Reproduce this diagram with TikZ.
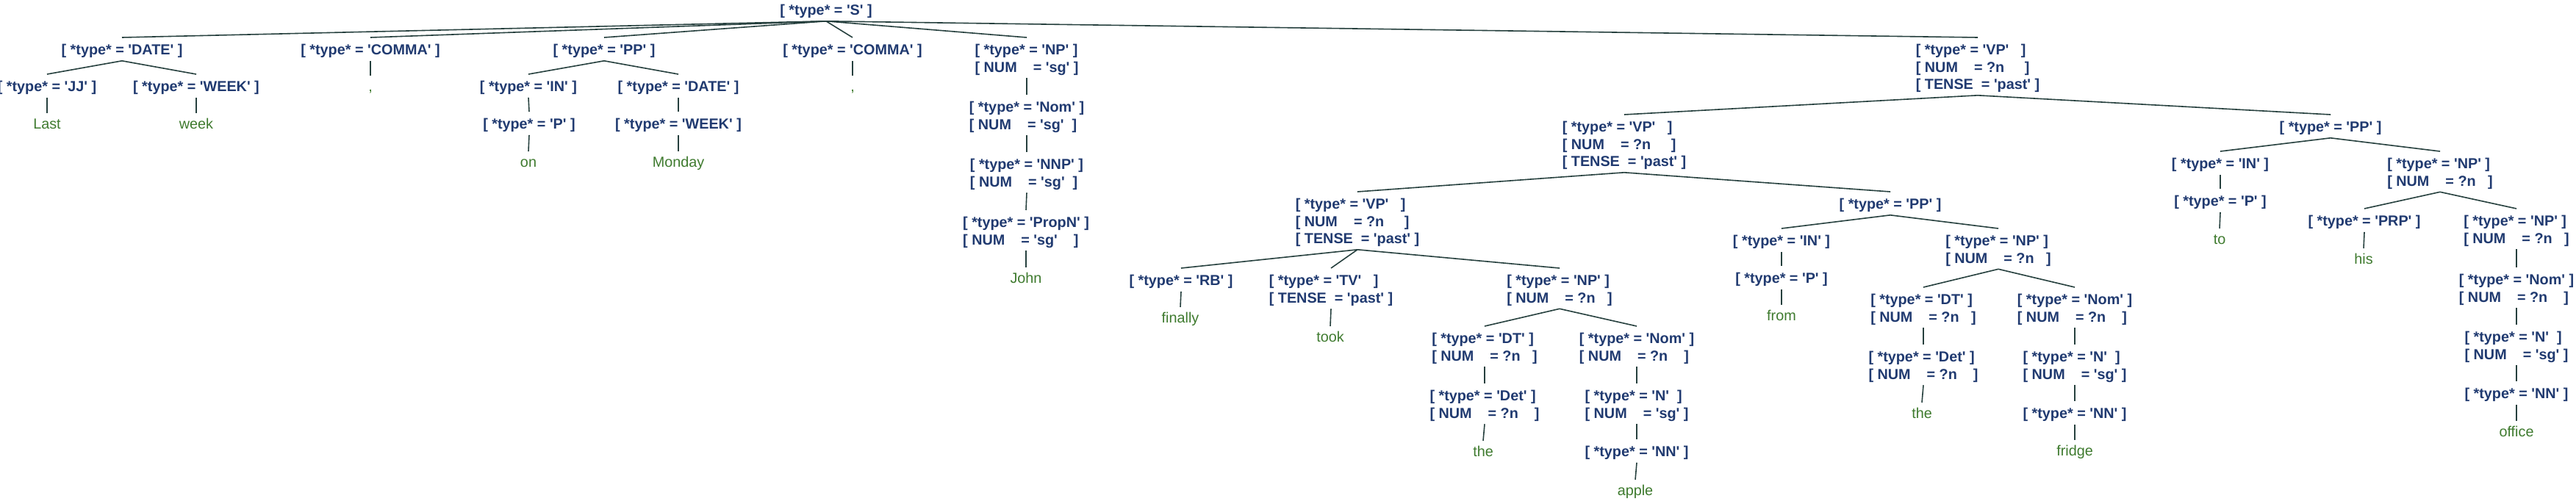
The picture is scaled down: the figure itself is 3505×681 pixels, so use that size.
\documentclass[tikz,border=0pt]{standalone}
\usepackage{fontspec}
\newfontfamily\nodefam{Liberation Sans}
\newcommand\nodefont{\nodefam\bfseries\fontsize{9.9pt}{11.75pt}\selectfont}
\newcommand\leaffont{\nodefam\fontsize{9.9pt}{11.75pt}\selectfont}
\newcommand\topS{\rule{0pt}{11.55pt}}
\newcommand\botS{\rule[-3.95pt]{0pt}{0pt}}
\newcommand\lfS{\rule{0pt}{10.55pt}}
\definecolor{nodecol}{RGB}{32,58,112}
\definecolor{leafcol}{RGB}{62,122,46}
\definecolor{linecol}{RGB}{38,64,62}
\tikzset{
  feat/.style={anchor=north, inner sep=0pt, align=left, text=nodecol, font=\nodefont},
  leaf/.style={anchor=north, inner sep=0pt, text=leafcol, font=\leaffont},
  edge/.style={draw=linecol, line width=0.8pt}
}
\begin{document}
\begin{tikzpicture}[x=0.5pt,y=-0.5pt]
\useasboundingbox (0,0) rectangle (3505,681);
% level 0
\node[feat] (S) at (1124,-3) {\topS[ *type* = 'S' ]\botS};
% level 1
\node[feat] (date1) at (166,51) {\topS[ *type* = 'DATE' ]\botS};
\node[feat] (comma1) at (504,51) {\topS[ *type* = 'COMMA' ]\botS};
\node[feat] (pp1) at (822,51) {\topS[ *type* = 'PP' ]\botS};
\node[feat] (comma2) at (1160,51) {\topS[ *type* = 'COMMA' ]\botS};
\node[feat] (np1) at (1397,51) {\topS[ *type* = 'NP' ]\\{}[ NUM~~~~= 'sg' ]\botS};
\node[feat] (vp1) at (2691,51) {\topS[ *type* = 'VP'~~~]\\{}[ NUM~~~~= ?n~~~~~]\\{}[ TENSE~~= 'past' ]\botS};
% level 2
\node[feat] (jj) at (64,101) {\topS[ *type* = 'JJ' ]\botS};
\node[feat] (week1) at (267,101) {\topS[ *type* = 'WEEK' ]\botS};
\node[leaf] (wcomma1) at (504,103) {\lfS,};
\node[feat] (in1) at (719,101) {\topS[ *type* = 'IN' ]\botS};
\node[feat] (date2) at (923,101) {\topS[ *type* = 'DATE' ]\botS};
\node[leaf] (wcomma2) at (1160,103) {\lfS,};
\node[feat] (nom1) at (1397,129) {\topS[ *type* = 'Nom' ]\\{}[ NUM~~~~= 'sg'~~]\botS};
\node[feat] (vp2) at (2210,156) {\topS[ *type* = 'VP'~~~]\\{}[ NUM~~~~= ?n~~~~~]\\{}[ TENSE~~= 'past' ]\botS};
\node[feat] (pp3) at (3171,156) {\topS[ *type* = 'PP' ]\botS};
% level 3
\node[leaf] (wlast) at (64,154) {\lfS Last};
\node[leaf] (wweek) at (267,154) {\lfS week};
\node[feat] (p1) at (720,152) {\topS[ *type* = 'P' ]\botS};
\node[feat] (week2) at (923,152) {\topS[ *type* = 'WEEK' ]\botS};
\node[feat] (nnp) at (1397,207) {\topS[ *type* = 'NNP' ]\\{}[ NUM~~~~= 'sg'~~]\botS};
\node[feat] (vp3) at (1847,261) {\topS[ *type* = 'VP'~~~]\\{}[ NUM~~~~= ?n~~~~~]\\{}[ TENSE~~= 'past' ]\botS};
\node[feat] (pp2) at (2572,261) {\topS[ *type* = 'PP' ]\botS};
\node[feat] (in3) at (3021,206) {\topS[ *type* = 'IN' ]\botS};
\node[feat] (np3) at (3320,206) {\topS[ *type* = 'NP' ]\\{}[ NUM~~~~= ?n~~~]\botS};
% level 4
\node[leaf] (won) at (719,206) {\lfS on};
\node[leaf] (wmonday) at (923,206) {\lfS Monday};
\node[feat] (propn) at (1396,286) {\topS[ *type* = 'PropN' ]\\{}[ NUM~~~~= 'sg'~~~~]\botS};
\node[feat] (rb) at (1607,365) {\topS[ *type* = 'RB' ]\botS};
\node[feat] (tv) at (1811,365) {\topS[ *type* = 'TV'~~~]\\{}[ TENSE~~= 'past' ]\botS};
\node[feat] (np2) at (2122,365) {\topS[ *type* = 'NP' ]\\{}[ NUM~~~~= ?n~~~]\botS};
\node[feat] (in2) at (2424,311) {\topS[ *type* = 'IN' ]\botS};
\node[feat] (np4) at (2719,311) {\topS[ *type* = 'NP' ]\\{}[ NUM~~~~= ?n~~~]\botS};
\node[feat] (p3) at (3021,257) {\topS[ *type* = 'P' ]\botS};
\node[feat] (prp) at (3217,284) {\topS[ *type* = 'PRP' ]\botS};
\node[feat] (np5) at (3424,284) {\topS[ *type* = 'NP' ]\\{}[ NUM~~~~= ?n~~~]\botS};
% level 5
\node[leaf] (wjohn) at (1396,364) {\lfS John};
\node[leaf] (wfinally) at (1606,418) {\lfS finally};
\node[leaf] (wtook) at (1810,444) {\lfS took};
\node[feat] (dt1) at (2020,444) {\topS[ *type* = 'DT' ]\\{}[ NUM~~~~= ?n~~~]\botS};
\node[feat] (nom2) at (2227,444) {\topS[ *type* = 'Nom' ]\\{}[ NUM~~~~= ?n~~~~]\botS};
\node[feat] (p2) at (2424,362) {\topS[ *type* = 'P' ]\botS};
\node[feat] (dt2) at (2617,391) {\topS[ *type* = 'DT' ]\\{}[ NUM~~~~= ?n~~~]\botS};
\node[feat] (nom3) at (2823,391) {\topS[ *type* = 'Nom' ]\\{}[ NUM~~~~= ?n~~~~]\botS};
\node[leaf] (wto) at (3020,311) {\lfS to};
\node[leaf] (whis) at (3216,338) {\lfS his};
\node[feat] (nom4) at (3424,364) {\topS[ *type* = 'Nom' ]\\{}[ NUM~~~~= ?n~~~~]\botS};
% level 6
\node[feat] (det1) at (2020,522) {\topS[ *type* = 'Det' ]\\{}[ NUM~~~~= ?n~~~~]\botS};
\node[feat] (n1) at (2227,522) {\topS[ *type* = 'N'~~]\\{}[ NUM~~~~= 'sg' ]\botS};
\node[leaf] (wfrom) at (2424,415) {\lfS from};
\node[feat] (det2) at (2617,469) {\topS[ *type* = 'Det' ]\\{}[ NUM~~~~= ?n~~~~]\botS};
\node[feat] (n2) at (2823,469) {\topS[ *type* = 'N'~~]\\{}[ NUM~~~~= 'sg' ]\botS};
\node[feat] (n3) at (3424,442) {\topS[ *type* = 'N'~~]\\{}[ NUM~~~~= 'sg' ]\botS};
% level 7
\node[leaf] (wthe1) at (2018,600) {\lfS the};
\node[feat] (nn1) at (2227,598) {\topS[ *type* = 'NN' ]\botS};
\node[leaf] (wthe2) at (2615,548) {\lfS the};
\node[feat] (nn2) at (2823,546) {\topS[ *type* = 'NN' ]\botS};
\node[feat] (nn3) at (3424,519) {\topS[ *type* = 'NN' ]\botS};
% level 8
\node[leaf] (wapple) at (2225,653) {\lfS apple};
\node[leaf] (wfridge) at (2823,599) {\lfS fridge};
\node[leaf] (woffice) at (3424,573) {\lfS office};
% connectors
\foreach \a/\b in {S/date1,S/comma1,S/pp1,S/comma2,S/np1,S/vp1,
  date1/jj,date1/week1,jj/wlast,week1/wweek,comma1/wcomma1,
  pp1/in1,pp1/date2,in1/p1,p1/won,date2/week2,week2/wmonday,
  comma2/wcomma2,np1/nom1,nom1/nnp,nnp/propn,propn/wjohn,
  vp1/vp2,vp1/pp3,vp2/vp3,vp2/pp2,vp3/rb,vp3/tv,vp3/np2,
  rb/wfinally,tv/wtook,np2/dt1,np2/nom2,dt1/det1,det1/wthe1,
  nom2/n1,n1/nn1,nn1/wapple,pp2/in2,pp2/np4,in2/p2,p2/wfrom,
  np4/dt2,np4/nom3,dt2/det2,det2/wthe2,nom3/n2,n2/nn2,nn2/wfridge,
  pp3/in3,pp3/np3,in3/p3,p3/wto,np3/prp,np3/np5,prp/whis,
  np5/nom4,nom4/n3,n3/nn3,nn3/woffice}
  \draw[edge] (\a.south) -- (\b.north);
\end{tikzpicture}
\end{document}
